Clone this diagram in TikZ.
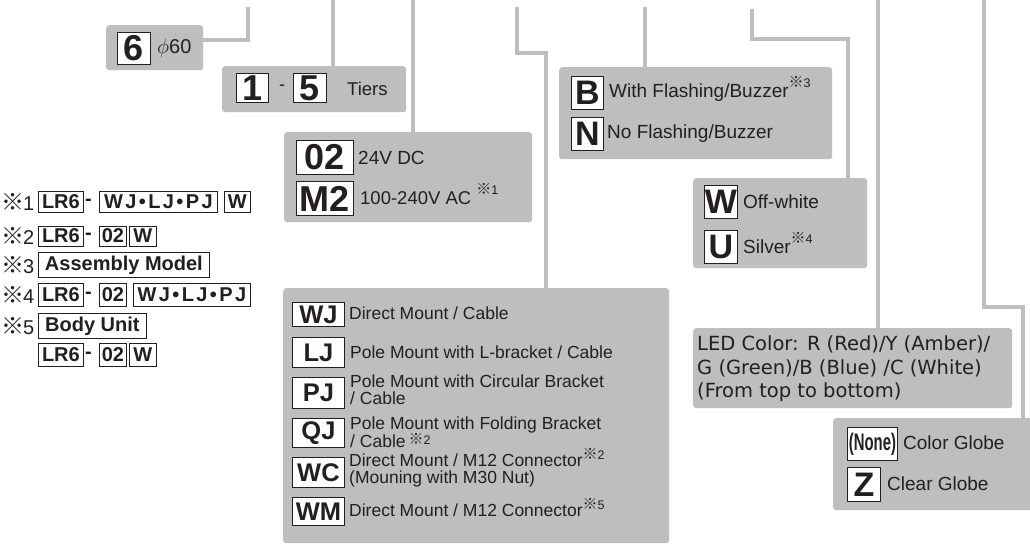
\documentclass[tikz,border=0pt]{standalone}
\usepackage{fontspec}
\setmainfont{Liberation Sans}
\newfontfamily\cjkf{Noto Sans CJK SC}
\newfontfamily\ledf{DejaVu Sans}
\usetikzlibrary{backgrounds}
\definecolor{panelgrey}{RGB}{189,190,192}
\definecolor{ink}{RGB}{35,31,32}
\newcommand\fsz[1]{\fontsize{#1}{#1}\selectfont}
\newcommand\refmk[2]{\smash{\raisebox{#1}{{\fontsize{15}{15}\selectfont\cjkf ※}{\fontsize{12.5}{12.5}\selectfont #2}}}}
\newcommand\refmark[1]{\refmk{0.55em}{#1}}
\newcommand\lowmark[1]{\refmk{0.4em}{#1}}
\newcommand\notemark[1]{{\fontsize{23}{23}\selectfont\cjkf ※}\kern-1pt#1}
\tikzset{
  panel/.style={fill=panelgrey, rounded corners=3pt, inner sep=0pt, anchor=north west},
  wire/.style={draw=panelgrey, line width=4pt, line join=miter},
  codebox/.style={draw=ink, line width=0.9pt, fill=white, inner sep=0pt, anchor=north west, text=ink, font=\bfseries\fsz{34}},
  digitbox/.style={codebox, font=\bfseries\fsz{36}},
  mcode/.style={codebox, minimum width=52pt, font=\bfseries\fsz{25.5}},
  notebox/.style={draw=ink, line width=0.8pt, fill=white, inner sep=0pt, anchor=west, text=ink, font=\bfseries\fsz{20}},
  lbl/.style={anchor=west, inner sep=0pt, text=ink, font=\fsz{19}},
  mlbl/.style={anchor=west, inner sep=0pt, text=ink, align=left, font=\fontsize{17.5}{17}\selectfont},
  notelbl/.style={anchor=west, inner sep=0pt, text=ink, font=\fsz{20}},
}
\begin{document}
\begin{tikzpicture}[x=1pt,y=-1pt]
\useasboundingbox (0,0) rectangle (1030,545);

% ---------- panels ----------
\node[panel, minimum width=97pt,  minimum height=45pt]  (b6)     at (106,25)  {};
\node[panel, minimum width=184pt, minimum height=46pt]  (btier)  at (222,66)  {};
\node[panel, minimum width=248pt, minimum height=90pt]  (bvolt)  at (284,132) {};
\node[panel, minimum width=386pt, minimum height=255pt] (bmount) at (283,288) {};
\node[panel, minimum width=273pt, minimum height=92pt]  (bflash) at (559,67)  {};
\node[panel, minimum width=174pt, minimum height=90pt]  (bcolor) at (693,178) {};
\node[panel, minimum width=319pt, minimum height=80pt]  (bled)   at (693,328) {};
\node[panel, minimum width=205pt, minimum height=92pt]  (bglobe) at (833,418) {};

% ---------- connectors ----------
\coordinate (t1) at (248,7);
\coordinate (t2) at (333,-3);
\coordinate (t3) at (413,-3);
\coordinate (t4) at (517,7);
\coordinate (k4) at (546,53);
\coordinate (t5) at (645,7);
\coordinate (t6) at (752,9);
\coordinate (k6) at (848,39);
\coordinate (t7) at (878,-3);
\coordinate (t8) at (984,-3);
\coordinate (k8) at (1023,307);
\begin{scope}[on background layer]
\fill[white] (0,0) rectangle (1030,545);
\draw[wire] (t1) |- ([yshift=8pt]b6.east);
\draw[wire] (t2) -- (t2 |- btier.north);
\draw[wire] (t3) -- (t3 |- bvolt.north);
\draw[wire] (t4) |- (k4) -- (k4 |- bmount.north);
\draw[wire] (t5) -- (t5 |- bflash.north);
\draw[wire] (t6) |- (k6) -- (k6 |- bcolor.north);
\draw[wire] (t7) -- (t7 |- bled.north);
\draw[wire] (t8) |- (k8) -- (k8 |- bglobe.north);
\end{scope}

% ---------- diameter ----------
\node[digitbox, minimum width=33pt, minimum height=32pt] (c6) at (117,32) {6};
\node[lbl, font=\fsz{20}] (l6) at (157,48) {$\phi$60};

% ---------- tiers ----------
\node[digitbox, minimum width=32pt, minimum height=29pt] (c1) at (236,73) {1};
\node[lbl, font=\fsz{18}] (dash) at (279,88) {-};
\node[digitbox, minimum width=33pt, minimum height=29pt] (c5) at (293,73) {5};
\node[lbl, font=\fsz{18.5}] (ltier) at (347,89) {Tiers};

% ---------- voltage ----------
\node[digitbox, minimum width=57pt, minimum height=34pt] (c02) at (296,140) {02};
\node[digitbox, minimum width=57pt, minimum height=34pt] (cM2) at (296,181) {M2};
\node[lbl, font=\fsz{19}] (l02) at (358,158) {24V DC};
\node[lbl, font=\fsz{18.5}] (lM2) at (360,198) {100-240V AC \refmark{1}};

% ---------- flashing ----------
\node[codebox, minimum width=32pt, minimum height=33pt] (cB) at (571,76) {B};
\node[codebox, minimum width=32pt, minimum height=33pt] (cN) at (571,117) {N};
\node[lbl] (lB) at (609,93) {With Flashing/Buzzer\refmark{3}};
\node[lbl] (lN) at (607,134) {No Flashing/Buzzer};

% ---------- body colour ----------
\node[codebox, minimum width=33pt, minimum height=33pt] (cW) at (704,185) {W};
\node[codebox, minimum width=33pt, minimum height=33pt] (cU) at (704,230) {U};
\node[lbl] (lW) at (743,202) {Off-white};
\node[lbl] (lU) at (743,247) {Silver\refmark{4}};

% ---------- LED ----------
\node[anchor=west, inner sep=0pt, text=ink, align=left, font=\ledf\fontsize{19.5}{23.5}\selectfont] (lled) at (697,369)
  {LED Color: R (Red)/Y (Amber)/\\G (Green)/B (Blue) /C (White)\\(From top to bottom)};

% ---------- globe ----------
\node[codebox, minimum width=50pt, minimum height=33pt, font=\bfseries\fsz{24}] (cNone) at (847,427) {\scalebox{0.62}[1]{(None)}};
\node[codebox, minimum width=33pt, minimum height=34pt] (cZ) at (847,467) {Z};
\node[lbl] (lNone) at (903,443) {Color Globe};
\node[lbl] (lZ) at (887,484) {Clear Globe};

% ---------- mounting ----------
\node[mcode, minimum height=24pt] (cWJ) at (292,302) {WJ};
\node[mcode, minimum height=30pt] (cLJ) at (292,337) {LJ};
\node[mcode, minimum height=31pt] (cPJ) at (292,377) {PJ};
\node[mcode, minimum height=29pt] (cQJ) at (292,418) {QJ};
\node[mcode, minimum height=30pt] (cWC) at (292,457) {WC};
\node[mcode, minimum height=28pt] (cWM) at (292,497) {WM};
\node[mlbl] (lWJ) at (349,313) {Direct Mount / Cable};
\node[mlbl] (lLJ) at (350,352) {Pole Mount with L-bracket / Cable};
\node[mlbl] (lPJ) at (350,390) {Pole Mount with Circular Bracket\\/ Cable};
\node[mlbl, font=\fontsize{17.5}{18.5}\selectfont] (lQJ) at (350,432) {Pole Mount with Folding Bracket\\/ Cable\,\refmk{0.15em}{2}};
\node[mlbl] (lWC) at (349,470) {Direct Mount / M12 Connector\lowmark{2}\\(Mouning with M30 Nut)};
\node[mlbl] (lWM) at (349,510) {Direct Mount / M12 Connector\lowmark{5}};

% ---------- notes ----------
\node[notelbl] (n1) at (1,202) {\notemark{1}};
\node[notebox, minimum width=45pt, minimum height=21pt] (n1a) at (38,202) {LR6};
\node[notelbl, font=\bfseries\fsz{20}] (n1d) at (85,202) {-};
\node[notebox, minimum width=118pt, minimum height=21pt, font=\bfseries\fsz{20}\addfontfeature{LetterSpace=12}] (n1b) at (99,202) {WJ•LJ•PJ};
\node[notebox, minimum width=26pt, minimum height=21pt] (n1c) at (224,202) {W};

\node[notelbl] (n2) at (1,236) {\notemark{2}};
\node[notebox, minimum width=45pt, minimum height=20pt] (n2a) at (38,236) {LR6};
\node[notelbl, font=\bfseries\fsz{20}] (n2d) at (85,236) {-};
\node[notebox, minimum width=27pt, minimum height=20pt] (n2b) at (99,236) {02};
\node[notebox, minimum width=27pt, minimum height=20pt] (n2c) at (129,236) {W};

\node[notelbl] (n3) at (1,265) {\notemark{3}};
\node[notebox, minimum width=171pt, minimum height=25pt] (n3a) at (38,265) {Assembly Model};

\node[notelbl] (n4) at (1,295) {\notemark{4}};
\node[notebox, minimum width=45pt, minimum height=23pt] (n4a) at (38,295) {LR6};
\node[notelbl, font=\bfseries\fsz{20}] (n4d) at (85,295) {-};
\node[notebox, minimum width=27pt, minimum height=23pt] (n4b) at (99,295) {02};
\node[notebox, minimum width=117pt, minimum height=23pt, font=\bfseries\fsz{20}\addfontfeature{LetterSpace=12}] (n4c) at (133,295) {WJ•LJ•PJ};

\node[notelbl] (n5) at (1,326) {\notemark{5}};
\node[notebox, minimum width=108pt, minimum height=25pt] (n5a) at (38,326) {Body Unit};

\node[notebox, minimum width=45pt, minimum height=23pt] (n6a) at (38,355) {LR6};
\node[notelbl, font=\bfseries\fsz{20}] (n6d) at (85,355) {-};
\node[notebox, minimum width=27pt, minimum height=23pt] (n6b) at (99,355) {02};
\node[notebox, minimum width=27pt, minimum height=23pt] (n6c) at (129,355) {W};
\end{tikzpicture}
\end{document}
